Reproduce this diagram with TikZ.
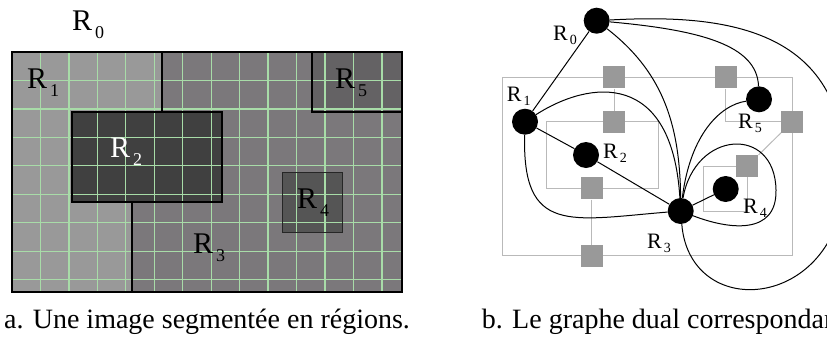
\documentclass[tikz,border=0pt]{standalone}
\usepackage{fontspec}
\setmainfont{Liberation Serif}
\usepackage{tikz}
\usetikzlibrary{positioning}
\definecolor{regone}{HTML}{999999}
\definecolor{regtwo}{HTML}{404040}
\definecolor{regthree}{HTML}{7B787B}
\definecolor{regfour}{HTML}{555555}
\definecolor{regfive}{HTML}{646264}
\definecolor{pixgrid}{HTML}{A8DCA8}
\newcommand{\Rbig}[1]{R\kern3pt\raisebox{-8pt}{\fontsize{18}{18}\selectfont #1}}
\newcommand{\Rsmall}[1]{R\kern2pt\raisebox{-4pt}{\fontsize{14}{14}\selectfont #1}}

\begin{document}
\begin{tikzpicture}[x=1pt, y=-1pt, every node/.style={inner sep=0pt},
  vertex/.style={circle,fill=black,minimum size=26pt},
  junction/.style={rectangle,fill=gray!80,minimum size=22pt},
  border/.style={gray!55,line width=1pt},
  edge/.style={line width=1pt},
  biglab/.style={anchor=base west,font=\fontsize{30}{30}\selectfont},
  smalllab/.style={anchor=base west,font=\fontsize{22}{22}\selectfont},
  caption/.style={font=\fontsize{28}{32}\selectfont}]
  \clip (0,0) rectangle (827,338);

  % a. image segmentee
  \begin{scope}[xshift=12pt, yshift=-52pt, x=30pt, y=-30pt]
    \fill[regthree] (0,0) rectangle (13,8);
    \fill[regone] (0,0) -- (5,0) -- (5,2) -- (2,2) -- (2,5) -- (4,5) -- (4,8) -- (0,8) -- cycle;
    \fill[regtwo] (2,2) rectangle (7,5);
    \fill[regfive] (10,0) rectangle (13,2);
    \fill[regfour] (9,4) rectangle (11,6);
    \draw[pixgrid, line width=1.3pt] (0,0) grid (13,8);
    \draw[line width=1.2pt] (0,0) rectangle (13,8);
    \draw[line width=1.2pt] (5,0) -- (5,2);
    \draw[line width=1.2pt] (2,2) rectangle (7,5);
    \draw[line width=1.2pt] (4,5) -- (4,8);
    \draw[line width=1.2pt] (10,0) -- (10,2) -- (13,2);
    \draw[black!85, line width=1pt] (9,4) rectangle (11,6);
  \end{scope}
  \node[biglab] (a0) at (72,30) {\Rbig{0}};
  \node[biglab] (a1) at (27,88) {\Rbig{1}};
  \node[biglab, text=white] (a2) at (110,157) {\Rbig{2}};
  \node[biglab] (a3) at (193,253) {\Rbig{3}};
  \node[biglab] (a4) at (297,208) {\Rbig{4}};
  \node[biglab] (a5) at (335,88) {\Rbig{5}};
  \node[caption, anchor=base] (capa) at (207,328) {a. Une image segmentée en régions.};

  % b. graphe dual
  \node[junction] (s1) at (614,77.3) {};
  \node[junction] (s2) at (614,121.7) {};
  \node[junction] (s3) at (725.7,77.3) {};
  \node[junction] (s4) at (792.3,121.7) {};
  \node[junction] (s5) at (747.3,166) {};
  \node[junction] (s6) at (591.7,188.3) {};
  \node[junction] (s7) at (591.7,255.7) {};
  \draw[border] (502.3,77.3) rectangle (792.3,255.7);
  \draw[border] (546.7,121.7) rectangle (658.3,188.3);
  \draw[border] (703.3,166) rectangle (747.3,211);
  \draw[border] (s3) |- (s4);
  \draw[border] (s1) -- (s2);
  \draw[border] (s6) -- (s7);
  \draw[border] (s5) -- (s4);
  \foreach \s in {s1,s2,s3,s4,s5,s6,s7}
    \node[junction] at (\s) {};

  \node[vertex] (r0) at (596.7,20.7) {};
  \node[vertex] (r1) at (525,121.7) {};
  \node[vertex] (r2) at (586,155) {};
  \node[vertex] (r3) at (680.7,211) {};
  \node[vertex] (r4) at (725.7,189) {};
  \node[vertex] (r5) at (759,99.3) {};

  \draw[edge] (r0) -- (r1);
  \draw[edge] (r1) -- (r2);
  \draw[edge] (r2) -- (r3);
  \draw[edge] (r3) -- (r4);
  \draw[edge] (r0) .. controls (660,70) and (680,120) .. (r3);
  \draw[edge] (r0) .. controls (700,30) and (757,45) .. (r5);
  \draw[edge] (r0) .. controls (720,14) and (846,25) .. (845,175)
                   .. controls (844,310) and (690,325) .. (r3);
  \draw[edge] (r1) .. controls (590,80) and (672,70) .. (r3);
  \draw[edge] (r1) .. controls (522,235) and (570,220) .. (r3);
  \draw[edge] (r3) .. controls (690,135) and (720,105) .. (r5);
  \draw[edge] (r3) .. controls (695,130) and (775,125) .. (776,190)
                   .. controls (777,235) and (730,230) .. (r3);

  \node[smalllab] (b0) at (553,40) {\Rsmall{0}};
  \node[smalllab] (b1) at (506.7,101.7) {\Rsmall{1}};
  \node[smalllab] (b2) at (603,158) {\Rsmall{2}};
  \node[smalllab] (b3) at (647,248) {\Rsmall{3}};
  \node[smalllab] (b4) at (743,213) {\Rsmall{4}};
  \node[smalllab] (b5) at (738,128) {\Rsmall{5}};
  \node[caption, anchor=base west] (capb) at (481.7,328) {b. Le graphe dual correspondant.};
\end{tikzpicture}
\end{document}
